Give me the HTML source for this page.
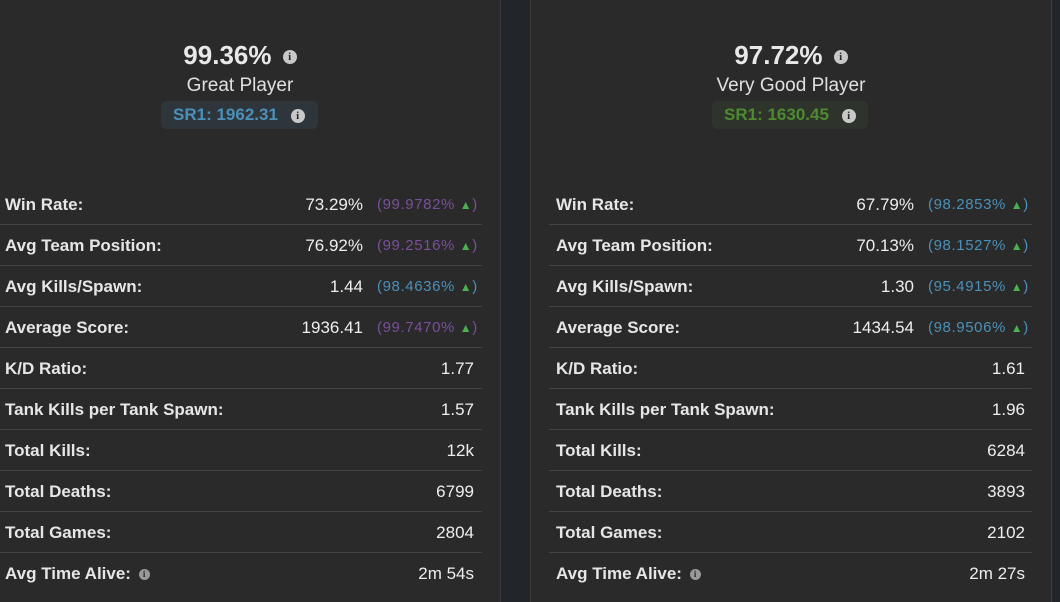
<!DOCTYPE html>
<html><head><style>
*{margin:0;padding:0;box-sizing:border-box}
body{width:1060px;height:602px;overflow:hidden;background:#22252a;font-family:"Liberation Sans",sans-serif;position:relative}
.panel{position:absolute;top:0;height:602px;background:#2a2a2a;border-right:1px solid #3c3c3c;border-left:1px solid #3c3c3c}
.abs{position:absolute;white-space:nowrap}
.big{font-size:26px;font-weight:bold;color:#e8e8e8;text-align:center}
.sub{font-size:19px;color:#e0e0e0;text-align:center}
.ic{display:inline-block;width:14px;height:14px;border-radius:50%;background:#c8c8c8;color:#2a2a2a;font-size:11px;font-weight:bold;line-height:14px;text-align:center;font-family:"Liberation Serif",serif;vertical-align:middle}
.ics{width:11px;height:11px;font-size:9px;line-height:11px;background:#999}
.badge{position:absolute;height:28px;border-radius:6px;font-size:17px;font-weight:bold;line-height:28px;padding-left:12px}
.lab{font-size:17px;font-weight:bold;color:#e6e6e6}
.val{font-size:17px;color:#eee;text-align:right}
.pct{font-size:15px;letter-spacing:0.6px}
.tri{color:#4caf50;font-size:12px}
.sep{position:absolute;height:1px;background:#444;border-radius:0 0 4px 0}
</style></head><body>
<div class="panel" style="left:-2px;width:503px"></div>
<div class="panel" style="left:530px;width:522px"></div>

<div class="abs big" style="left:140px;top:40px;width:200px">99.36% <span class="ic" style="margin-left:4px">i</span></div>
<div class="abs sub" style="left:140px;top:75px;width:200px">Great Player</div>
<div class="badge" style="left:161px;top:101px;width:157px;background:#2f363b;color:#4a90b8">SR1: 1962.31 <span class="ic" style="margin-left:8px;width:14px;height:14px">i</span></div>

<div class="abs big" style="left:691px;top:40px;width:200px">97.72% <span class="ic" style="margin-left:4px">i</span></div>
<div class="abs sub" style="left:691px;top:75px;width:200px">Very Good Player</div>
<div class="badge" style="left:712px;top:101px;width:156px;background:#2e332c;color:#4e8a30">SR1: 1630.45 <span class="ic" style="margin-left:8px">i</span></div>

<div id="rows"></div>
<script>
var L=[["Win Rate:","73.29%","99.9782%","#7a4f9a"],["Avg Team Position:","76.92%","99.2516%","#7a4f9a"],["Avg Kills/Spawn:","1.44","98.4636%","#4a90b8"],["Average Score:","1936.41","99.7470%","#7a4f9a"],["K/D Ratio:","1.77"],["Tank Kills per Tank Spawn:","1.57"],["Total Kills:","12k"],["Total Deaths:","6799"],["Total Games:","2804"],["Avg Time Alive:","2m 54s"]];
var R=[["Win Rate:","67.79%","98.2853%","#4a90b8"],["Avg Team Position:","70.13%","98.1527%","#4a90b8"],["Avg Kills/Spawn:","1.30","95.4915%","#4a90b8"],["Average Score:","1434.54","98.9506%","#4a90b8"],["K/D Ratio:","1.61"],["Tank Kills per Tank Spawn:","1.96"],["Total Kills:","6284"],["Total Deaths:","3893"],["Total Games:","2102"],["Avg Time Alive:","2m 27s"]];
var h="";
function side(D,x0,lineL,lineR,valR){
D.forEach(function(r,i){var y=195+i*41;
h+='<div class="abs lab" style="left:'+x0+'px;top:'+y+'px">'+r[0]+(i==9?' <span class="ic ics" style="margin-left:3px">i</span>':'')+'</div>';
var vr=r[2]?valR-111:valR;
h+='<div class="abs val" style="right:'+(1060-vr)+'px;top:'+y+'px">'+r[1]+'</div>';
if(r[2])h+='<div class="abs pct" style="left:'+(vr+14)+'px;top:'+(y+1)+'px;color:'+r[3]+'">('+r[2]+' <span class="tri">&#9650;</span>)</div>';
if(i<9)h+='<div class="sep" style="left:'+lineL+'px;width:'+(lineR-lineL)+'px;top:'+(y+29)+'px"></div>';
});}
side(L,5,0,482,474);
side(R,556,549,1032,1025);
document.getElementById("rows").innerHTML=h;
</script>
</body></html>
